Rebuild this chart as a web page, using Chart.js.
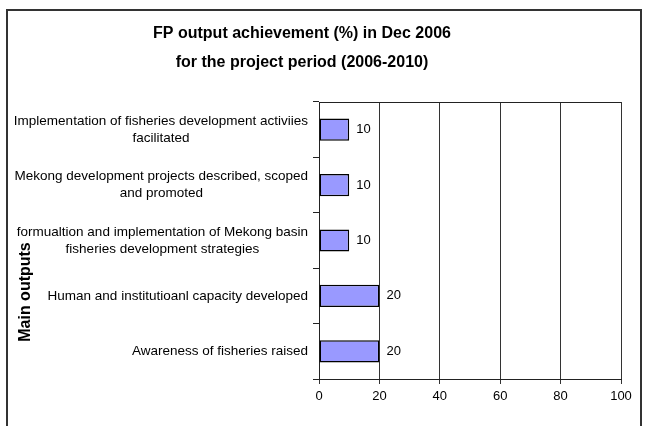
<!DOCTYPE html>
<html lang="en">
<head>
    <meta charset="UTF-8">
    <title>FP output achievement</title>
    <script src="https://cdn.jsdelivr.net/npm/chart.js"></script>
    <style>
        body, html {
            margin: 0;
            padding: 0;
            width: 645px;
            height: 426px;
            overflow: hidden;
            background: #fff;
            font-family: "Liberation Sans", Arial, sans-serif;
        }
        #frame {
            position: absolute;
            left: 6px;
            top: 9px;
            width: 632px;
            height: 440px;
            border: 2px solid #333;
        }
        #wrap {
            position: absolute;
            left: 0;
            top: 0;
            width: 645px;
            height: 426px;
        }
    </style>
</head>
<body>
    <div id="frame"></div>
    <div id="wrap"><canvas id="fpChart"></canvas></div>

    <script>
        const outputs = [
            ["Implementation of fisheries development activiies", "facilitated"],
            ["Mekong development projects described, scoped", "and promoted"],
            ["formualtion and implementation of Mekong basin", "fisheries development strategies"],
            "Human and institutioanl capacity developed",
            "Awareness of fisheries raised"
        ];
        const achievement = [10, 10, 10, 20, 20];
        const titleLines = ["FP output achievement (%) in Dec 2006", "for the project period (2006-2010)"];
        const axisTitle = "Main outputs";

        const FONT = '"Liberation Sans", Arial, sans-serif';

        // labels drawn by hand: block right-aligned to the axis, lines centred
        const decorations = {
            id: 'decorations',
            afterDraw(chart) {
                const ctx = chart.ctx;
                const y = chart.scales.y;
                const area = chart.chartArea;
                ctx.save();

                // top edge of plot box
                ctx.strokeStyle = '#222';
                ctx.lineWidth = 1;
                ctx.beginPath();
                ctx.moveTo(area.left, area.top + 0.5);
                ctx.lineTo(area.right, area.top + 0.5);
                ctx.stroke();

                ctx.fillStyle = '#000';
                ctx.font = '13.5px ' + FONT;
                ctx.textAlign = 'center';
                ctx.textBaseline = 'middle';
                const lh = 17;
                outputs.forEach((lab, i) => {
                    const lines = Array.isArray(lab) ? lab : [lab];
                    const w = Math.max(...lines.map(l => ctx.measureText(l).width));
                    const cx = y.right - 11 - w / 2;
                    const py = y.getPixelForTick(i);
                    lines.forEach((l, j) => {
                        ctx.fillText(l, cx, py + (j - (lines.length - 1) / 2) * lh);
                    });
                });

                // value labels
                ctx.font = '13px ' + FONT;
                ctx.textAlign = 'left';
                const meta = chart.getDatasetMeta(0);
                meta.data.forEach((bar, i) => {
                    ctx.fillText(String(achievement[i]), bar.x + 7, bar.y);
                });

                // chart title
                ctx.font = 'bold 16px ' + FONT;
                ctx.textAlign = 'center';
                ctx.fillText(titleLines[0], 302, 34);
                ctx.fillText(titleLines[1], 302, 63);

                // y axis title
                ctx.translate(26, 292);
                ctx.rotate(-Math.PI / 2);
                ctx.fillText(axisTitle, 0, 0);
                ctx.restore();
            }
        };

        new Chart(document.getElementById('fpChart').getContext('2d'), {
            type: 'bar',
            data: {
                labels: outputs,
                datasets: [{
                    data: achievement,
                    backgroundColor: '#9999ff',
                    borderColor: '#000',
                    borderWidth: 1.5,
                    borderSkipped: false,
                    barPercentage: 0.4,
                    categoryPercentage: 1
                }]
            },
            options: {
                indexAxis: 'y',
                responsive: true,
                maintainAspectRatio: false,
                animation: false,
                layout: { padding: { top: 102, right: 24, bottom: 0, left: 0 } },
                scales: {
                    x: {
                        min: 0,
                        max: 100,
                        ticks: { stepSize: 20, color: '#000', font: { family: FONT, size: 13 }, padding: 5 },
                        grid: { color: '#333', lineWidth: 1, tickLength: 5 },
                        border: { color: '#222', width: 1 },
                        afterFit(scale) { scale.height = 47; }
                    },
                    y: {
                        ticks: { display: false },
                        grid: { drawOnChartArea: false, color: '#222', tickLength: 6 },
                        border: { color: '#222', width: 1 },
                        afterFit(scale) { scale.width = 319; }
                    }
                },
                plugins: {
                    legend: { display: false },
                    tooltip: { enabled: false }
                }
            },
            plugins: [decorations]
        });
    </script>
</body>
</html>
